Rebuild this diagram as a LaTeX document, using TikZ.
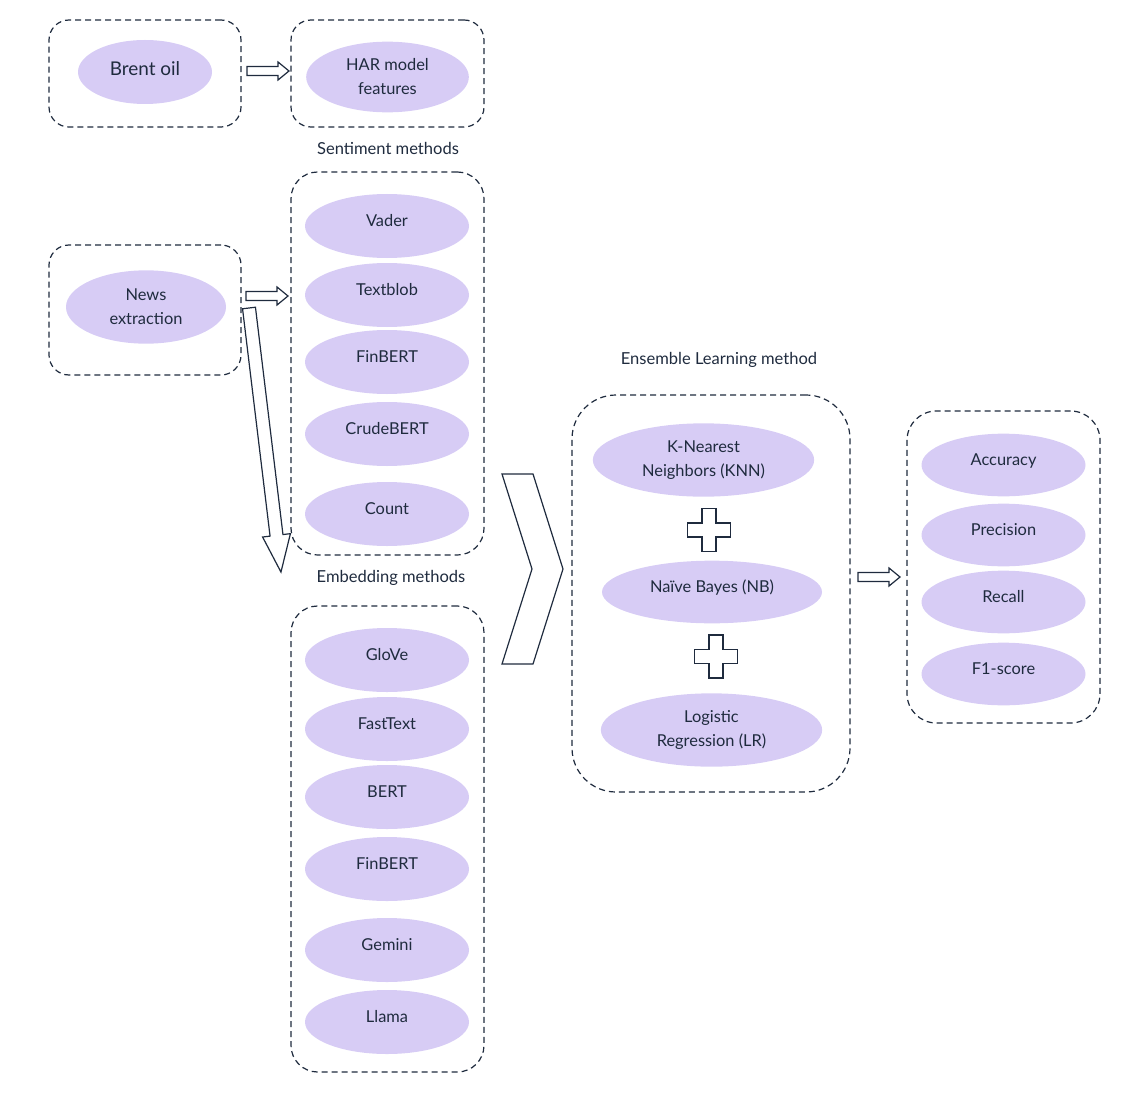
\documentclass[tikz,border=0pt]{standalone}
\usepackage{fontspec}
\setmainfont{Lato}
\usetikzlibrary{shapes.geometric}
\definecolor{lav}{HTML}{D7CCF5}
\definecolor{ink}{HTML}{1F2B3E}
\begin{document}
\begin{tikzpicture}[x=0.75pt,y=-0.75pt,
  grp/.style={draw=ink, dash pattern=on 4.5pt off 3pt, line width=0.9pt, rounded corners=15pt, rectangle, inner sep=0pt},
  oval/.style={ellipse, fill=lav, draw=none, text=ink, inner sep=0pt, minimum width=123pt, minimum height=48pt, font=\fontsize{12.3}{18}\selectfont, align=center},
  onel/.style={text height=8.5pt, text depth=8pt},
  captxt/.style={text=ink, font=\fontsize{12.4}{14}\selectfont, inner sep=0pt},
  outl/.style={draw=ink, line width=0.9pt, fill=white, line join=miter},
  plussign/.pic={\draw[outl] (-7,-21.5) -- (7,-21.5) -- (7,-7) -- (21.5,-7) -- (21.5,7) -- (7,7) -- (7,21.5) -- (-7,21.5) -- (-7,7) -- (-21.5,7) -- (-21.5,-7) -- (-7,-7) -- cycle;},
  shortarrow/.pic={\draw[outl] (0,-4.5) -- (31,-4.5) -- (31,-9) -- (42,0) -- (31,9) -- (31,4.5) -- (0,4.5) -- cycle;},
  longarrow/.pic={\draw[outl] (0,-6.5) -- (229,-6.5) -- (229,-14) -- (266,0) -- (229,14) -- (229,6.5) -- (0,6.5) -- cycle;}
]
\useasboundingbox (0,0) rectangle (1126,1098);

% group boxes
\node[grp, minimum width=144pt, minimum height=80.25pt] (g1) at (145,73.5) {};
\node[grp, minimum width=144.75pt, minimum height=80.25pt] (g2) at (387.5,73.5) {};
\node[grp, minimum width=144pt, minimum height=97.5pt] (g3) at (145,310) {};
\node[grp, minimum width=144.75pt, minimum height=287.25pt, rounded corners=20pt] (g4) at (387.5,363.5) {};
\node[grp, minimum width=144.75pt, minimum height=349.5pt, rounded corners=20pt] (g5) at (387.5,839) {};
\node[grp, minimum width=208.5pt, minimum height=297.75pt, rounded corners=33pt] (g6) at (711,593.5) {};
\node[grp, minimum width=144.75pt, minimum height=234pt, rounded corners=22pt] (g7) at (1003.5,567) {};

% captions
\node[captxt] (c1) at (388,148) {Sentiment methods};
\node[captxt] (c2) at (391,578) {Embedding methods};
\node[captxt] (c3) at (719,360) {Ensemble Learning method};

% ovals
\node[oval, minimum width=100.5pt, font=\fontsize{14.2}{18}\selectfont, text height=10pt, text depth=4.5pt] (brent) at (145,72) {Brent oil};
\node[oval, minimum width=122pt, minimum height=53pt] (har) at (387.5,77) {HAR model\\features};
\node[oval, minimum width=120pt, minimum height=55pt] (news) at (146,307) {News\\extraction};

\node[oval, onel] (vader) at (387,226) {Vader};
\node[oval, onel] (textblob) at (387,295) {Textblob};
\node[oval, onel] (finbert1) at (387,362) {FinBERT};
\node[oval, onel] (crude) at (387,434) {CrudeBERT};
\node[oval, onel] (count) at (387,514) {Count};

\node[oval, onel] (glove) at (387,660) {GloVe};
\node[oval, onel] (fasttext) at (387,729) {FastText};
\node[oval, onel] (bert) at (387,797) {BERT};
\node[oval, onel] (finbert2) at (387,869) {FinBERT};
\node[oval, onel] (gemini) at (387,950) {Gemini};
\node[oval, onel] (llama) at (387,1022) {Llama};

\node[oval, minimum width=166pt, minimum height=55pt] (knn) at (703.5,460) {K-Nearest\\Neighbors (KNN)};
\node[oval, onel, minimum width=165pt, minimum height=47pt] (nb) at (712,592) {Naïve Bayes (NB)};
\node[oval, minimum width=166pt, minimum height=55pt] (lr) at (711.5,730) {Logistic\\Regression (LR)};

\node[oval, onel, minimum height=47pt] (acc) at (1003.5,465) {Accuracy};
\node[oval, onel, minimum height=47pt] (prec) at (1003.5,535) {Precision};
\node[oval, onel, minimum height=47pt] (rec) at (1003.5,602) {Recall};
\node[oval, onel, minimum height=47pt] (f1) at (1003.5,674) {F1-score};

% block arrows
\coordinate (s1) at (247,71);
\coordinate (s2) at (246,296);
\coordinate (s3) at (858,577);
\coordinate (s4) at (249,308);
\pic at (s1) {shortarrow};
\pic at (s2) {shortarrow};
\pic at (s3) {shortarrow};
\pic[rotate=-83.1] at (s4) {longarrow};

% chevron
\draw[outl] (502,474) -- (533,474) -- (563,569) -- (533,664) -- (502,664) -- (532,569) -- cycle;

% plus signs
\pic at (709,530) {plussign};
\pic at (716,656.5) {plussign};
\end{tikzpicture}
\end{document}
